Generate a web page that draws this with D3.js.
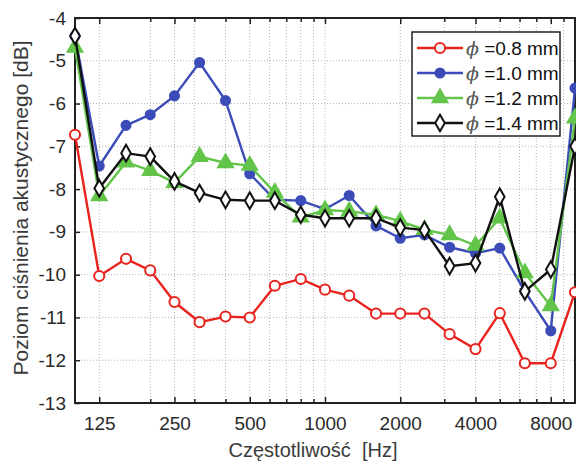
<!DOCTYPE html>
<html>
<head>
<meta charset="utf-8">
<script src="https://cdn.jsdelivr.net/npm/d3@7"></script>
<style>
  body { margin: 0; background: #fff; overflow: hidden; }
  svg { display: block; font-family: "Liberation Sans", Arial, sans-serif; }
</style>
</head>
<body>
<div id="chart"></div>
<script>
// 1/3 octave band centre frequencies
var freqs = [100, 125, 160, 200, 250, 315, 400, 500, 630, 800, 1000, 1250, 1600, 2000, 2500, 3150, 4000, 5000, 6300, 8000, 10000]
var d08 = [-6.73, -10.03, -9.63, -9.90, -10.64, -11.11, -10.98, -11.0, -10.26, -10.10, -10.35, -10.49, -10.91, -10.91, -10.91, -11.39, -11.74, -10.90, -12.07, -12.07, -10.41]
var d10 = [-4.42, -7.46, -6.51, -6.26, -5.82, -5.04, -5.93, -7.64, -8.25, -8.27, -8.47, -8.15, -8.86, -9.15, -9.07, -9.36, -9.50, -9.38, -10.39, -11.31, -5.64]
var d12 = [-4.69, -8.16, -7.37, -7.57, -7.85, -7.24, -7.39, -7.45, -8.08, -8.66, -8.49, -8.52, -8.60, -8.75, -8.95, -9.07, -9.32, -8.68, -9.96, -10.73, -6.34]
var d14 = [-4.42, -7.98, -7.16, -7.24, -7.82, -8.09, -8.25, -8.27, -8.27, -8.60, -8.68, -8.68, -8.68, -8.90, -8.96, -9.80, -9.73, -8.18, -10.39, -9.88, -7.0]
var xTicks = [125, 250, 500, 1000, 2000, 4000, 8000]
var xMinor = [200, 300, 400, 600, 700, 800, 900, 3000, 5000, 6000, 7000, 9000]
var yTicks = [-13, -12, -11, -10, -9, -8, -7, -6, -5, -4]
var labels = ["0.8", "1.0", "1.2", "1.4"]

var width = 576, height = 463
var pLeft = 75, pRight = 575, pTop = 18, pBottom = 403

var svg = d3.select("#chart").append("svg")
  .attr("width", width)
  .attr("height", height)

var x = d3.scaleLog().domain([100, 10000]).range([pLeft, pRight])
var y = d3.scaleLinear().domain([-13, -4]).range([pBottom, pTop])

// grid
var grid = svg.append("g")
grid.selectAll(".vg")
  .data(xTicks.concat(xMinor))
  .enter().append("line")
  .attr("x1", d => x(d)).attr("x2", d => x(d))
  .attr("y1", pTop).attr("y2", pBottom)
  .attr("stroke", "#b5b5b5").attr("stroke-width", 1)
  .attr("stroke-dasharray", "1,2")
grid.selectAll(".hg")
  .data(yTicks.slice(1, -1))
  .enter().append("line")
  .attr("x1", pLeft).attr("x2", pRight)
  .attr("y1", d => y(d)).attr("y2", d => y(d))
  .attr("stroke", "#b5b5b5").attr("stroke-width", 1)
  .attr("stroke-dasharray", "1,2")

// axes
var xAxis = d3.axisBottom(x).tickValues(xTicks).tickFormat(d3.format("d")).tickSizeInner(-6).tickSizeOuter(0).tickPadding(14)
var gx = svg.append("g").attr("transform", "translate(0," + pBottom + ")").call(xAxis)
svg.append("g").attr("transform", "translate(0," + pTop + ")")
  .call(d3.axisTop(x).tickValues(xTicks).tickFormat("").tickSizeInner(-6).tickSizeOuter(0))
svg.append("g").attr("transform", "translate(0," + pBottom + ")")
  .call(d3.axisBottom(x).tickValues(xMinor).tickFormat("").tickSizeInner(-4).tickSizeOuter(0))
svg.append("g").attr("transform", "translate(0," + pTop + ")")
  .call(d3.axisTop(x).tickValues(xMinor).tickFormat("").tickSizeInner(-4).tickSizeOuter(0))
var gy = svg.append("g").attr("transform", "translate(" + pLeft + ",0)")
  .call(d3.axisLeft(y).tickValues(yTicks).tickFormat(d3.format("d")).tickSizeInner(-5).tickSizeOuter(0).tickPadding(9))

svg.selectAll(".domain").remove()
svg.selectAll(".tick line").attr("stroke", "#222").attr("stroke-width", 1.5)
svg.selectAll(".tick text").attr("fill", "#2a2a2a").style("font-size", "19px")
  .style("font-family", "'Liberation Sans', Arial, sans-serif")
gy.selectAll(".tick text").text(d => d < 0 ? "-" + Math.abs(d) : d)

// box
svg.append("rect")
  .attr("x", pLeft).attr("y", pTop)
  .attr("width", pRight - pLeft).attr("height", pBottom - pTop)
  .attr("fill", "none").attr("stroke", "#222").attr("stroke-width", 2)

// series
var series = [
  { name: labels[0], values: d08, color: "#e8231d", marker: "circle", fill: "#fff" },
  { name: labels[1], values: d10, color: "#3b4cb8", marker: "circle", fill: "#3b4cb8" },
  { name: labels[2], values: d12, color: "#62c54a", marker: "triangle", fill: "#62c54a" },
  { name: labels[3], values: d14, color: "#111", marker: "diamond", fill: "#fff" }
]

var line = d3.line().x(d => x(d[0])).y(d => y(d[1]))

function symbolFor(s) {
  if (s.marker == "triangle") return d3.symbol().type(d3.symbolTriangle).size(95)()
  if (s.marker == "diamond") return d3.symbol().type(d3.symbolDiamond).size(80)()
  if (s.fill == "#fff") return d3.symbol().type(d3.symbolCircle).size(80)()
  return d3.symbol().type(d3.symbolCircle).size(65)()
}

series.forEach(function(s) {
  var pts = freqs.map((f, i) => [f, s.values[i]])
  var g = svg.append("g")
  g.append("path")
    .attr("d", line(pts))
    .attr("fill", "none")
    .attr("stroke", s.color)
    .attr("stroke-width", 2.4)
  g.selectAll("path.m")
    .data(pts)
    .enter().append("path")
    .attr("class", "m")
    .attr("d", symbolFor(s))
    .attr("transform", d => "translate(" + x(d[0]) + "," + y(d[1]) + ")")
    .attr("fill", s.fill)
    .attr("stroke", s.color)
    .attr("stroke-width", 2)
})

// legend
var lg = svg.append("g").attr("transform", "translate(412,32)")
lg.append("rect")
  .attr("width", 148).attr("height", 104)
  .attr("fill", "#fff").attr("stroke", "#222").attr("stroke-width", 1.5)
series.forEach(function(s, i) {
  var yy = 16 + i * 25
  lg.append("line")
    .attr("x1", 5).attr("x2", 51).attr("y1", yy).attr("y2", yy)
    .attr("stroke", s.color).attr("stroke-width", 2.4)
  lg.append("path")
    .attr("d", symbolFor(s))
    .attr("transform", "translate(28," + yy + ")")
    .attr("fill", s.fill).attr("stroke", s.color).attr("stroke-width", 2)
  var t = lg.append("text")
    .attr("x", 54).attr("y", yy + 7)
    .style("font-size", "19px").attr("fill", "#111")
  t.append("tspan").text("ϕ").style("font-style", "italic").style("font-family", "'DejaVu Serif', serif").attr("fill", "#555")
  t.append("tspan").text(" =" + s.name + " mm")
})

// axis labels
svg.append("text")
  .attr("x", 313).attr("y", 457)
  .attr("text-anchor", "middle")
  .style("font-size", "20px").style("white-space", "pre").attr("fill", "#3a3a3a")
  .text("Częstotliwość  [Hz]")
svg.append("text")
  .attr("transform", "translate(28,208) rotate(-90)")
  .attr("text-anchor", "middle")
  .style("font-size", "21px").attr("fill", "#3a3a3a")
  .text("Poziom ciśnienia akustycznego [dB]")
</script>
</body>
</html>
